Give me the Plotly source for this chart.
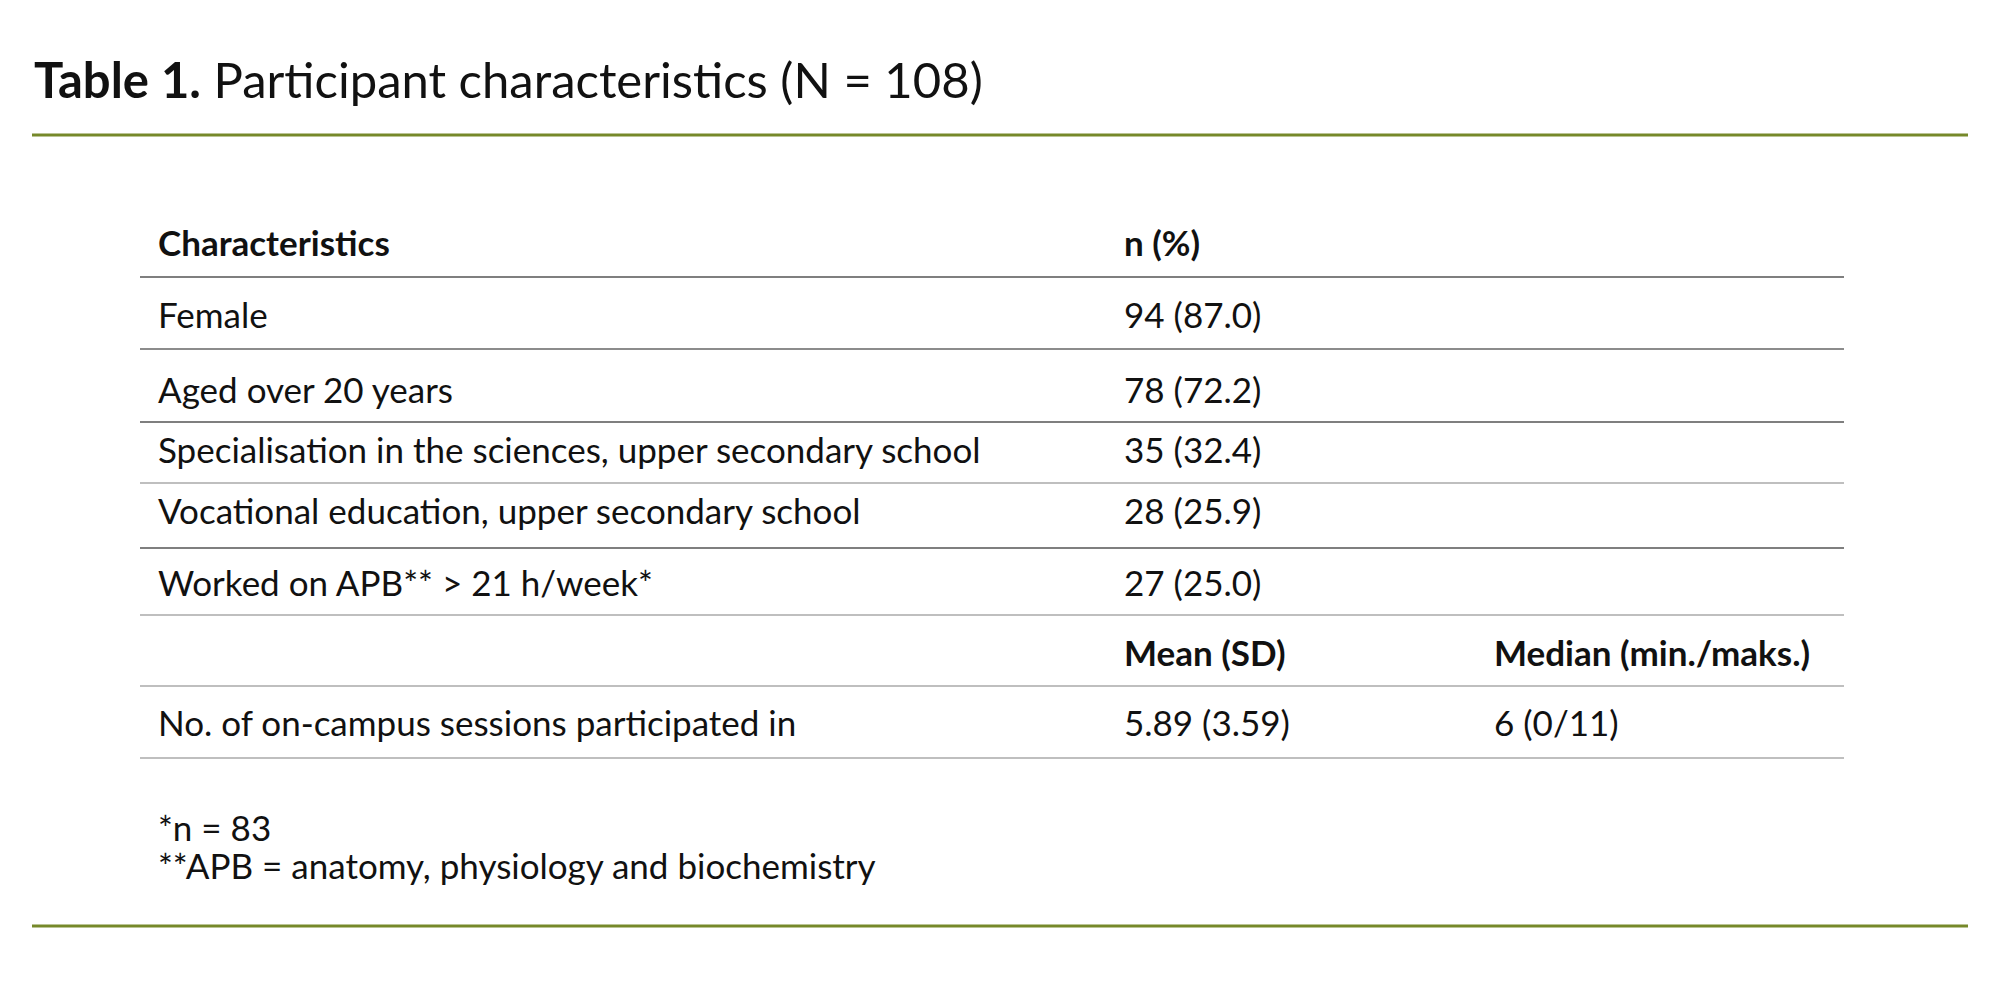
import plotly.graph_objects as go

title_bold = "Table 1."
title_rest = " Participant characteristics (N = 108)"

labels = [
    "Female",
    "Aged over 20 years",
    "Specialisation in the sciences, upper secondary school",
    "Vocational education, upper secondary school",
    "Worked on APB** > 21 h/week*",
]
counts = ["94 (87.0)", "78 (72.2)", "35 (32.4)", "28 (25.9)", "27 (25.0)"]
sub_headers = ["Mean (SD)", "Median (min./maks.)"]
session_label = "No. of on-campus sessions participated in"
session_values = ["5.89 (3.59)", "6 (0/11)"]
footnotes = ["*n = 83", "**APB = anatomy, physiology and biochemistry"]

FONT = "Lato, Calibri, sans-serif"
TXT = "#111111"
GREEN = "#76892a"

# page body has a default 8px margin, so shift everything back
OFF = 8
row_y = [314, 389, 449, 510, 582]
rule_y = [277, 349, 422, 483, 548, 615, 686, 758]
rule_col = ["#555555", "#666666", "#555555", "#aaaaaa", "#555555", "#aaaaaa", "#aaaaaa", "#aaaaaa"]
x_col = [156, 1122, 1492]

fig = go.Figure()
ann = []


def txt(x, y, s, bold=False, size=35):
    ann.append(dict(x=x - OFF, y=y - OFF, text=f"<b>{s}</b>" if bold else s, showarrow=False,
                    xanchor="left", yanchor="middle",
                    font=dict(family=FONT, size=size, color=TXT)))


ann.append(dict(x=32 - OFF, y=79 - OFF, text=f"<b>{title_bold}</b>{title_rest}", showarrow=False,
                xanchor="left", yanchor="middle", font=dict(family=FONT, size=49, color=TXT)))

txt(x_col[0], 242, "Characteristics", bold=True)
txt(x_col[1], 242, "n (%)", bold=True)
for y, lab, c in zip(row_y, labels, counts):
    txt(x_col[0], y, lab)
    txt(x_col[1], y, c)
txt(x_col[1], 652, sub_headers[0], bold=True)
txt(x_col[2], 652, sub_headers[1], bold=True)
txt(x_col[0], 722, session_label)
txt(x_col[1], 722, session_values[0])
txt(x_col[2], 722, session_values[1])
txt(x_col[0], 827, footnotes[0])
txt(x_col[0], 865, footnotes[1])

shapes = [
    dict(type="line", x0=32 - OFF, x1=1968 - OFF, y0=135 - OFF, y1=135 - OFF, line=dict(color=GREEN, width=3)),
    dict(type="line", x0=32 - OFF, x1=1968 - OFF, y0=926 - OFF, y1=926 - OFF, line=dict(color=GREEN, width=3)),
]
for y, col in zip(rule_y, rule_col):
    shapes.append(dict(type="line", x0=140 - OFF, x1=1844 - OFF, y0=y - OFF, y1=y - OFF,
                       line=dict(color=col, width=1.5)))

fig.update_layout(
    width=2000, height=982, margin=dict(l=0, r=0, t=0, b=0),
    paper_bgcolor="white", plot_bgcolor="white",
    xaxis=dict(range=[0, 2000], visible=False),
    yaxis=dict(range=[982, 0], visible=False),
    annotations=ann, shapes=shapes, showlegend=False,
)
fig.write_html("out.html")
